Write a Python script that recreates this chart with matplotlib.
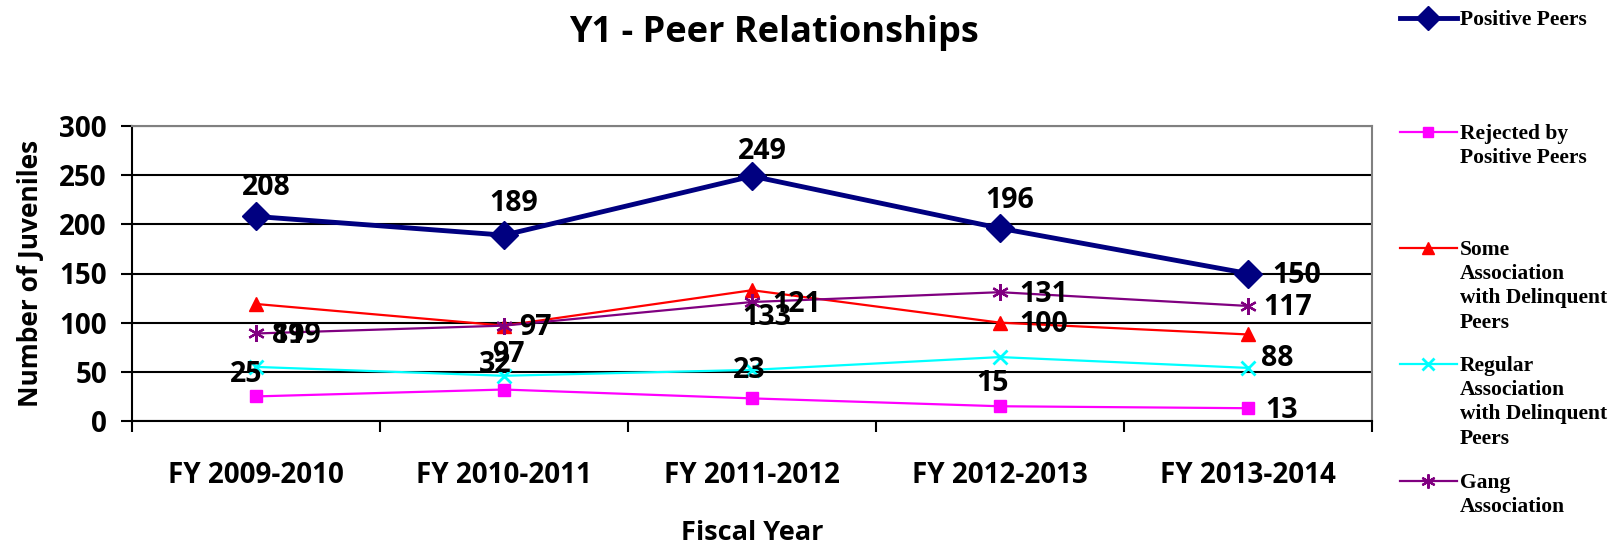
import matplotlib
matplotlib.use("Agg")
import matplotlib.pyplot as plt
from matplotlib.lines import Line2D

# data
years = ["FY 2009-2010", "FY 2010-2011", "FY 2011-2012", "FY 2012-2013", "FY 2013-2014"]
positive = [208, 189, 249, 196, 150]
rejected = [25, 32, 23, 15, 13]
some_assoc = [119, 97, 133, 100, 88]
regular_assoc = [55, 46, 52, 65, 54]
gang = [89, 97, 121, 131, 117]

legend_names = ["Positive Peers", "Rejected by\nPositive Peers",
                "Some\nAssociation\nwith Delinquent\nPeers",
                "Regular\nAssociation\nwith Delinquent\nPeers",
                "Gang\nAssociation"]

sans = "Open Sans"
serif = "Liberation Serif"

fig = plt.figure(figsize=(16.21, 5.45), dpi=100)
ax = fig.add_axes([132 / 1621, 1 - 421 / 545, 1240 / 1621, 295 / 545])

x = list(range(len(years)))

# series styles: color, marker, markersize, linewidth, mew
styles = [
    ("#000080", "D", 14, 3.5, 1),
    ("#FF00FF", "s", 9, 1.6, 1),
    ("#FF0000", "^", 10, 1.6, 1),
    ("#00FFFF", "x", 10.5, 1.6, 2),
    ("#800080", (6, 2, 0), 12, 1.6, 1.6),
]
series = [positive, rejected, some_assoc, regular_assoc, gang]
for vals, (c, m, ms, lw, mew) in zip(series, styles):
    ax.plot(x, vals, color=c, marker=m, markersize=ms, linewidth=lw,
            markeredgewidth=mew, markeredgecolor=c, markerfacecolor=c,
            zorder=3, clip_on=False)

# data labels (offsets in pixels, roughly as placed in the original)
lab_kw = dict(textcoords="offset pixels", fontsize=20.5, fontweight="bold",
              family=sans, color="black", va="center", zorder=5)

def label(xi, yi, txt, dx, dy, ha="center"):
    ax.annotate(str(txt), (xi, yi), xytext=(dx, dy), ha=ha, **lab_kw)

pos_dy = [29, 32, 25, 28]
for i, v in enumerate(positive):
    if i < 4:
        label(i, v, v, 10, pos_dy[i])
    else:
        label(i, v, v, 24, -2, ha="left")

pink_off = [(-10, 22), (-9, 25), (-3, 28), (-7, 23)]
for i, v in enumerate(rejected):
    if i < 4:
        label(i, v, v, *pink_off[i])
    else:
        label(i, v, v, 17, -2, ha="left")

red_off = [(16, -32, "left"), (4, -29, "center"), (15, -27, "center"),
           (19, -2, "left"), (13, -24, "left")]
for i, v in enumerate(some_assoc):
    dx, dy, ha = red_off[i]
    label(i, v, v, dx, dy, ha=ha)

gang_dx = [16, 15, 20, 19, 15]
for i, v in enumerate(gang):
    label(i, v, v, gang_dx[i], -2, ha="left")

# axes
ax.set_xlim(-0.5, 4.5)
ax.set_ylim(0, 300)
ax.set_yticks(range(0, 301, 50))
ax.yaxis.grid(True, color="black", linewidth=1.5)
ax.set_axisbelow(True)
ax.set_xticks(x)
ax.set_xticklabels(years)
ax.set_xticks([i + 0.5 for i in range(-1, 5)], minor=True)
ax.tick_params(axis="x", which="major", length=0, pad=29)
ax.tick_params(axis="x", which="minor", length=8, width=1.5, direction="out")
ax.tick_params(axis="y", length=8, width=1.5, pad=10)
for t in ax.get_xticklabels() + ax.get_yticklabels():
    t.set_fontfamily(sans)
    t.set_fontweight("bold")
for t in ax.get_xticklabels():
    t.set_fontsize(20)
for t in ax.get_yticklabels():
    t.set_fontsize(20)

ax.spines["left"].set_linewidth(1.5)
ax.spines["bottom"].set_linewidth(1.5)
ax.spines["top"].set_color("#808080")
ax.spines["right"].set_color("#808080")
ax.spines["top"].set_linewidth(1.5)
ax.spines["right"].set_linewidth(1.5)

ax.set_ylabel("Number of Juveniles", fontsize=19, fontweight="bold",
              family=sans)
ax.yaxis.set_label_coords((31 - 132) / 1240, 0.5)
ax.yaxis.label.set_va("center")
ax.yaxis.label.set_ha("center")
ax.set_xlabel("Fiscal Year", fontsize=19.5, fontweight="bold", family=sans)
ax.xaxis.set_label_coords(0.5, (421 - 533) / 295)
ax.xaxis.label.set_va("center")

fig.text(774 / 1621, 1 - 42 / 545, "Y1 - Peer Relationships", ha="center",
         va="baseline", fontsize=26, fontweight="bold", family=sans)

# hand-made legend: marker sits on the first line of each entry
leg_y = [17.6, 132, 248, 364, 481]
for name, yy, (c, m, ms, lw, mew) in zip(legend_names, leg_y, styles):
    fy = 1 - yy / 545
    fig.add_artist(Line2D([1400 / 1621, 1457 / 1621], [fy, fy], color=c,
                          linewidth=lw, transform=fig.transFigure))
    fig.add_artist(Line2D([1428 / 1621], [fy], color=c, marker=m,
                          markersize=ms * 0.85, markeredgewidth=mew,
                          markerfacecolor=c, markeredgecolor=c,
                          linestyle="none", transform=fig.transFigure))
    fig.text(1460 / 1621, fy + 8 / 545, name, ha="left", va="top",
             fontsize=15.5, fontweight="bold", family=serif, linespacing=1.28)

fig.savefig("out.png", dpi=100)
